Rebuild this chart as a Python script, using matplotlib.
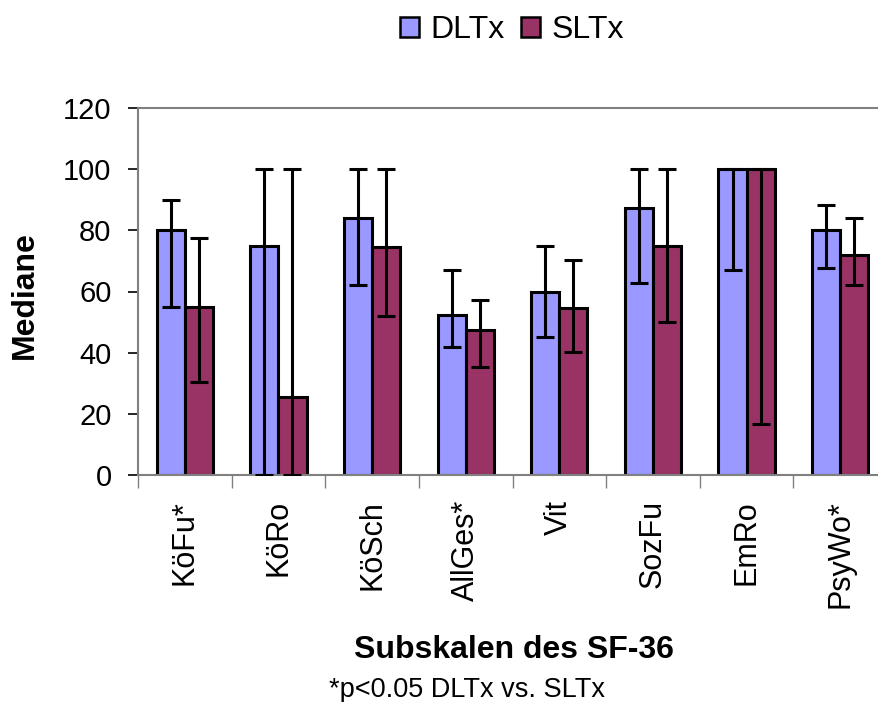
import matplotlib
matplotlib.use("Agg")
import matplotlib.pyplot as plt
from matplotlib.patches import Patch
import numpy as np

plt.rcParams['font.family'] = ['Liberation Sans', 'DejaVu Sans']

# data
categories = ['KöFu*', 'KöRo', 'KöSch', 'AllGes*', 'Vit', 'SozFu', 'EmRo', 'PsyWo*']
dltx = [80, 75, 84, 52.3, 60, 87.3, 100, 80]
dltx_hi = [90, 100, 100, 67, 75, 100, 100, 88.3]
dltx_lo = [55, 0, 62, 42, 45, 62.8, 67, 67.7]
sltx = [55, 25.5, 74.5, 47.4, 54.6, 75, 100, 72]
sltx_hi = [77.5, 100, 100, 57.2, 70.3, 100, 100, 84]
sltx_lo = [30.4, 0, 52, 35.3, 40.2, 50, 16.7, 62]

c_dl = '#9999FF'
c_sl = '#993366'

fig = plt.figure(figsize=(8.79, 7.02), dpi=100)
ax = fig.add_axes([138/879, 1-475/702, (887-138)/879, (475-108)/702])

x = np.arange(len(categories)) + 0.5
w = 0.3
ax.bar(x - w/2, dltx, w, color=c_dl, edgecolor='black', linewidth=2.2, zorder=2)
ax.bar(x + w/2, sltx, w, color=c_sl, edgecolor='black', linewidth=2.2, zorder=2)

dl = np.array(dltx); sl = np.array(sltx)
ax.errorbar(x - w/2, dl, yerr=[dl - np.array(dltx_lo), np.array(dltx_hi) - dl],
            fmt='none', ecolor='black', elinewidth=2.2, capsize=6.8, capthick=2.2, zorder=3)
ax.errorbar(x + w/2, sl, yerr=[sl - np.array(sltx_lo), np.array(sltx_hi) - sl],
            fmt='none', ecolor='black', elinewidth=2.2, capsize=6.8, capthick=2.2, zorder=3)

ax.set_xlim(0, len(categories))
ax.set_ylim(0, 120)
ax.set_yticks(range(0, 121, 20))
ax.tick_params(axis='y', labelsize=21, length=7, width=1.2, direction='out', color='black', pad=12)
ax.set_xticks(np.arange(len(categories) + 1))
ax.set_xticklabels([])
ax.tick_params(axis='x', which='major', length=9, width=1, color='#808080')
ax.set_xticks(x, minor=True)
ax.set_xticklabels(categories, minor=True, rotation=90, fontsize=22)
ax.tick_params(axis='x', which='minor', length=0, pad=18)

for s in ['top', 'bottom', 'left', 'right']:
    ax.spines[s].set_color('#808080')
    ax.spines[s].set_linewidth(1.5)

ax.set_ylabel('Mediane', fontsize=23, fontweight='bold', va='center')
ax.yaxis.set_label_coords(-0.151, 0.49)
ax.set_xlabel('Subskalen des SF-36', fontsize=23, fontweight='bold', va='center')
ax.xaxis.set_label_coords(0.502, -0.477)

handles = [Patch(facecolor=c_dl, edgecolor='black', linewidth=1.8, label='DLTx'),
           Patch(facecolor=c_sl, edgecolor='black', linewidth=1.8, label='SLTx')]
fig.legend(handles=handles, loc='center', bbox_to_anchor=(512/879, 1-30/702), ncol=2,
           frameon=False, fontsize=23, handlelength=0.6, handleheight=0.6,
           handletextpad=0.35, columnspacing=0.5)

fig.text(467/879, 1-690/702, '*p<0.05 DLTx vs. SLTx', fontsize=19.5, ha='center', va='center')

fig.savefig('out.png', dpi=100)
